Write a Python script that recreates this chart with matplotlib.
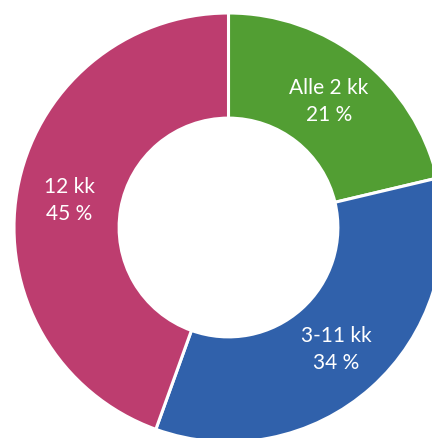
import matplotlib
matplotlib.use('Agg')
import matplotlib.pyplot as plt

# Data
categories = ['Alle 2 kk', '3-11 kk', '12 kk']
shares = [21.3, 34.2, 44.5]          # wedge sizes
shown_pct = [21, 34, 45]             # percentages printed in the labels
colors = ['#529E33', '#3061AB', '#BD3D6F']

labels = [f'{c}\n{p} %' for c, p in zip(categories, shown_pct)]

fig = plt.figure(figsize=(4.32, 4.39), dpi=100)
ax = fig.add_axes([0, 0, 1, 1])

ax.pie(shares, colors=colors, labels=labels, startangle=90, counterclock=False,
       radius=1.0, labeldistance=0.755,
       wedgeprops=dict(width=0.49, edgecolor='white', linewidth=2.2),
       textprops=dict(color='white', fontsize=15, family='Lato', ha='center', va='center',
                      linespacing=1.4))

# chart is cropped on right and bottom, like the reference
ax.set_xlim(-228.5 / 214.5, (432 - 228.5) / 214.5)
ax.set_ylim(-(439 - 228.5) / 214.5, 228.5 / 214.5)
ax.set_aspect('auto')
ax.axis('off')

fig.savefig('out.png', dpi=100)
